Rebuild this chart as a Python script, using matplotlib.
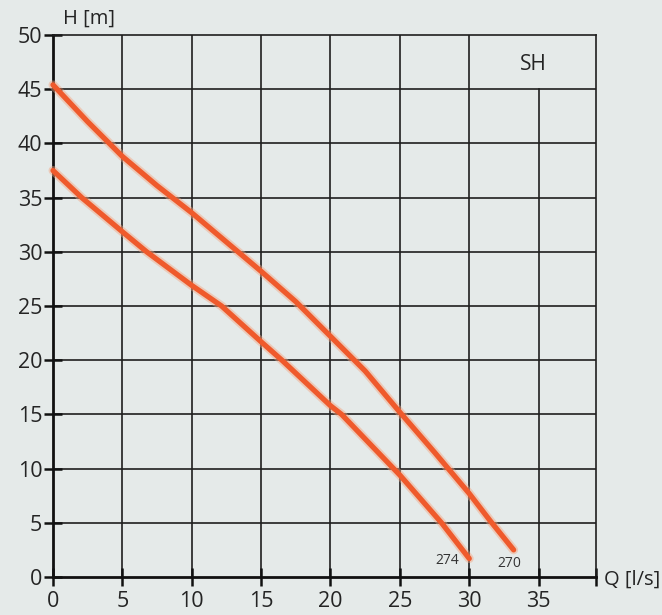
import matplotlib
matplotlib.use("Agg")
import matplotlib.pyplot as plt

plt.rcParams['font.family'] = ['Open Sans', 'DejaVu Sans']

# Data
q_270 = [0, 2.5, 5, 7.5, 10, 12.5, 15, 17.5, 20, 22.5, 25, 27.5, 30, 31.5, 33.2]
h_270 = [45.4, 42.0, 38.8, 36.1, 33.6, 30.9, 28.2, 25.4, 22.2, 19.0, 15.2, 11.5, 7.7, 5.2, 2.5]

q_274 = [0, 2.07, 5, 6.75, 10, 12.15, 15, 16.5, 20, 20.8, 25, 28, 30]
h_274 = [37.5, 35, 31.85, 30, 26.9, 25, 21.7, 20, 15.8, 15, 9.4, 5, 1.7]

x_ticks = [0, 5, 10, 15, 20, 25, 30, 35]
y_ticks = [0, 5, 10, 15, 20, 25, 30, 35, 40, 45, 50]
x_max = 39.1
label_box_bottom = 45

bg = '#e5eae9'
fig = plt.figure(figsize=(6.62, 6.15), dpi=100, facecolor=bg)
ax = fig.add_axes([53 / 662, 1 - 577 / 615, (595.5 - 53) / 662, (577 - 35) / 615])
ax.set_facecolor(bg)
ax.set_xlim(0, x_max)
ax.set_ylim(0, 50)

grid_c = '#1f1f1f'
for y in y_ticks[1:-1]:
    ax.plot([0, x_max], [y, y], color=grid_c, lw=1.2, zorder=1)
for x in x_ticks[1:]:
    top = label_box_bottom if x > 30 else 50
    ax.plot([x, x], [0, top], color=grid_c, lw=1.2, zorder=1)

for side in ['top', 'right']:
    ax.spines[side].set_linewidth(1.2)
    ax.spines[side].set_color(grid_c)
for side in ['left', 'bottom']:
    ax.spines[side].set_linewidth(2.0)
    ax.spines[side].set_color('#111111')

ax.set_xticks(x_ticks + [x_max])
ax.set_xticklabels([str(v) for v in x_ticks] + [''])
ax.set_yticks(y_ticks)
ax.set_yticklabels([str(v) for v in y_ticks])
ax.tick_params(axis='both', direction='inout', length=12.5, width=1.8, color='#111111',
               labelsize=15.5, labelcolor='#242424')
ax.tick_params(axis='y', pad=1.5)
ax.tick_params(axis='x', pad=4)

curve_c = '#ef5a2c'
for q, h in [(q_270, h_270), (q_274, h_274)]:
    ax.plot(q, h, color='#f4a37f', lw=6.5, alpha=0.45, solid_capstyle='round',
            solid_joinstyle='round', zorder=3, clip_on=False)
    ax.plot(q, h, color=curve_c, lw=3.8, solid_capstyle='round',
            solid_joinstyle='round', zorder=4, clip_on=False)

ax.text(q_274[-1] - 0.7, 1.55, '274', fontsize=10, color='#333333', ha='right', va='center')
ax.text(q_270[-1] - 0.3, 1.2, '270', fontsize=10, color='#333333', ha='center', va='center')

ax.text(34.6, 47.3, 'SH', fontsize=15, color='#242424', ha='center', va='center')

fig.text(63 / 662, 1 - 19 / 615, 'H [m]', fontsize=14.5, color='#242424', ha='left', va='center')
fig.text(604 / 662, 1 - 580 / 615, 'Q [l/s]', fontsize=14.5, color='#242424', ha='left', va='center')

fig.savefig('out.png', dpi=100, facecolor=bg)
